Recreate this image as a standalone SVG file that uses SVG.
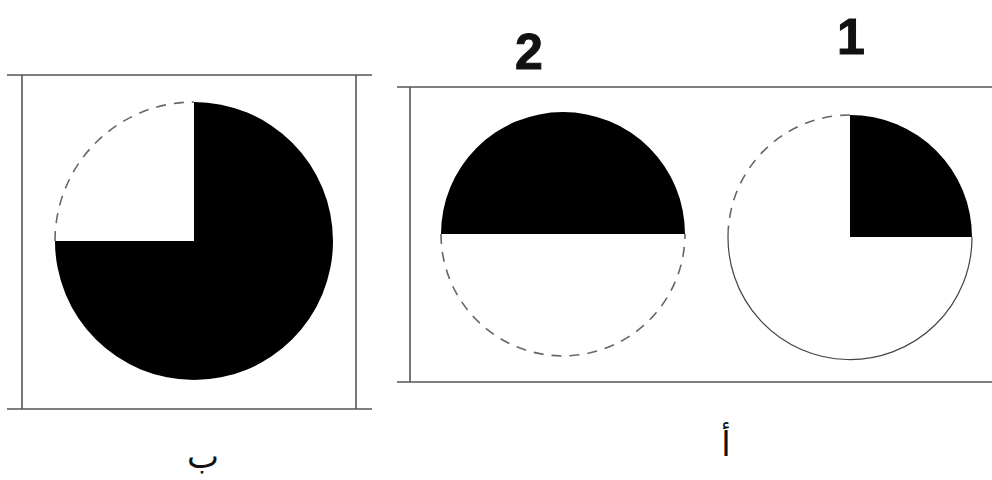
<svg xmlns="http://www.w3.org/2000/svg" width="992" height="480" viewBox="0 0 992 480">
<style>
.frame{stroke:#555;stroke-width:1.6;fill:none}
.dash{stroke:#666;stroke-width:1.6;fill:none;stroke-dasharray:10 8}
.solid{stroke:#444;stroke-width:1.2;fill:none}
.blk{fill:#000}
.num{font-family:"Liberation Sans",Arial,sans-serif;font-weight:bold;font-size:50px;fill:#111;text-anchor:middle;stroke:#111;stroke-width:1}
.ar{font-family:"DejaVu Sans","Noto Sans",sans-serif;font-size:34px;fill:#111;text-anchor:middle}
</style>
<rect width="992" height="480" fill="#fff"/>
<g id="frames">
<line class="frame" x1="7" y1="75" x2="372" y2="75"/>
<line class="frame" x1="7" y1="409" x2="372" y2="409"/>
<line class="frame" x1="22" y1="75" x2="22" y2="409"/>
<line class="frame" x1="356" y1="75" x2="356" y2="409"/>
<line class="frame" x1="397" y1="87" x2="992" y2="87"/>
<line class="frame" x1="397" y1="382" x2="992" y2="382"/>
<line class="frame" x1="410" y1="87" x2="410" y2="382"/>
</g>
<g id="circle-b">
<path class="blk" d="M194 241 V102 A139 139 0 1 1 55 241 Z"/>
<path class="dash" d="M55 241 A139 139 0 0 1 194 102"/>
</g>
<g id="circle-2">
<path class="blk" d="M441 234 A122 122 0 0 1 685 234 Z"/>
<path class="dash" d="M441 234 A122 122 0 0 0 685 234"/>
</g>
<g id="circle-1">
<path class="blk" d="M850 237 V115 A122 122 0 0 1 972 237 Z"/>
<path class="dash" d="M850 115 A122 122 0 0 0 728.2 230.6"/>
<path class="solid" d="M728.2 230.6 A122 122 0 1 0 972 237"/>
</g>
<g id="labels">
<text class="num" x="529" y="69">2</text>
<text class="num" x="851" y="54">1</text>
<text class="ar" x="203" y="468">ب</text>
<text class="ar" x="726" y="456">أ</text>
</g>
</svg>
